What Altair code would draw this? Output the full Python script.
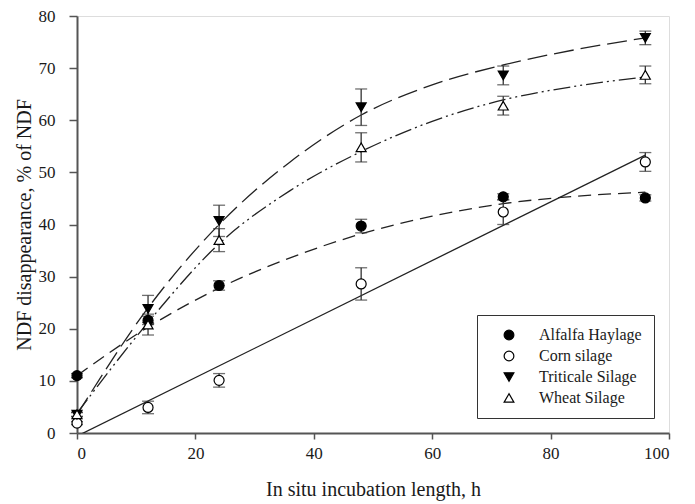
import altair as alt
import pandas as pd

# ---- data ----
series_names = ["Alfalfa Haylage", "Corn silage", "Triticale Silage", "Wheat Silage"]
times = [0, 12, 24, 48, 72, 96]
alfalfa_mean = [11.0, 21.6, 28.3, 39.7, 45.3, 45.1]
alfalfa_err = [0.4, 0.8, 0.9, 1.3, 0.6, 0.6]
corn_mean = [1.9, 4.9, 10.1, 28.6, 42.4, 52.0]
corn_err = [0.3, 1.2, 1.3, 3.1, 2.4, 1.8]
triticale_mean = [3.5, 23.8, 40.7, 62.5, 68.6, 75.8]
triticale_err = [0.4, 2.6, 3.0, 3.5, 1.8, 1.3]
wheat_mean = [3.6, 20.8, 37.0, 54.8, 62.8, 68.7]
wheat_err = [0.4, 2.0, 2.2, 2.8, 1.8, 1.7]

# fitted curves
curve_t = [0, 12, 24, 36, 48, 60, 72, 84, 96]
alfalfa_curve = [11.0, 20.3, 27.8, 33.6, 38.2, 41.6, 44.0, 45.4, 46.2]
triticale_curve = [3.5, 24.0, 40.0, 52.0, 61.0, 66.8, 70.6, 73.5, 75.8]
wheat_curve = [3.8, 21.2, 36.3, 46.5, 54.0, 59.8, 63.9, 66.5, 68.3]
corn_line_t = [0, 96]
corn_line = [-0.6, 53.3]

x_ticks = [0, 20, 40, 60, 80, 100]
y_ticks = [0, 10, 20, 30, 40, 50, 60, 70, 80]

# ---- tables ----
rows = []
for name, m, e in zip(series_names,
                      [alfalfa_mean, corn_mean, triticale_mean, wheat_mean],
                      [alfalfa_err, corn_err, triticale_err, wheat_err]):
    for t, mm, ee in zip(times, m, e):
        rows.append({"series": name, "t": t, "y": mm, "lo": mm - ee, "hi": mm + ee})
pts = pd.DataFrame(rows)

FONT = "Liberation Serif"
TXT = "#1a1a1a"

xscale = alt.Scale(domain=[0, 100], nice=False, zero=False)
yscale = alt.Scale(domain=[0, 80], nice=False)

xaxis = alt.Axis(values=x_ticks, title="In situ incubation length, h", grid=False,
                 tickSize=6, labelPadding=6, titlePadding=18,
                 labelFontSize=17, titleFontSize=20, labelFont=FONT, titleFont=FONT,
                 labelColor=TXT, titleColor=TXT, titleFontWeight="normal",
                 domainColor="#555", domainWidth=2, tickColor="#555", tickWidth=1.5)
yaxis = alt.Axis(values=y_ticks, title="NDF disappearance, % of NDF", grid=False,
                 tickSize=8, labelPadding=14, titlePadding=4,
                 labelFontSize=17, titleFontSize=20, labelFont=FONT, titleFont=FONT,
                 labelColor=TXT, titleColor=TXT, titleFontWeight="normal",
                 domainColor="#555", domainWidth=2, tickColor="#555", tickWidth=1.5)


def curve_layer(tt, vv, dash, with_axes=False):
    df = pd.DataFrame({"t": tt, "y": vv})
    kw = dict(color="#222", strokeWidth=1.3, clip=True, interpolate="monotone")
    if dash:
        kw["strokeDash"] = dash
    if with_axes:
        enc = dict(x=alt.X("t:Q", scale=xscale, axis=xaxis),
                   y=alt.Y("y:Q", scale=yscale, axis=yaxis))
    else:
        enc = dict(x=alt.X("t:Q", scale=xscale), y=alt.Y("y:Q", scale=yscale))
    return alt.Chart(df).mark_line(**kw).encode(**enc)


l_alf = curve_layer(curve_t, alfalfa_curve, [13, 7], with_axes=True)
l_corn = curve_layer(corn_line_t, corn_line, None)
l_tri = curve_layer(curve_t, triticale_curve, [20, 7])
l_wht = curve_layer(curve_t, wheat_curve, [17, 4, 2, 4, 2, 4])

rules = alt.Chart(pts).mark_rule(color="#333", strokeWidth=1.3).encode(
    x=alt.X("t:Q", scale=xscale),
    y=alt.Y("lo:Q", scale=yscale),
    y2="hi:Q",
)
cap_lo = alt.Chart(pts).mark_tick(color="#333", thickness=1.3, size=12,
                                  orient="horizontal").encode(
    x=alt.X("t:Q", scale=xscale), y=alt.Y("lo:Q", scale=yscale))
cap_hi = alt.Chart(pts).mark_tick(color="#333", thickness=1.3, size=12,
                                  orient="horizontal").encode(
    x=alt.X("t:Q", scale=xscale), y=alt.Y("hi:Q", scale=yscale))

legend = alt.Legend(title=None, orient="bottom-right", offset=15,
                    strokeColor="#333", fillColor="white", padding=12,
                    symbolOffset=12, labelOffset=22, rowPadding=5,
                    labelFont=FONT, labelFontSize=16, labelColor=TXT,
                    symbolStrokeWidth=1.2, symbolSize=95, symbolOpacity=1)

points = alt.Chart(pts).mark_point(filled=True, strokeWidth=1.2, size=100).encode(
    x=alt.X("t:Q", scale=xscale),
    y=alt.Y("y:Q", scale=yscale),
    shape=alt.Shape("series:N", scale=alt.Scale(
        domain=series_names,
        range=["circle", "circle", "triangle-down", "triangle-up"]), legend=legend),
    fill=alt.Fill("series:N", scale=alt.Scale(
        domain=series_names, range=["black", "white", "black", "white"]), legend=legend),
    stroke=alt.Stroke("series:N", scale=alt.Scale(
        domain=series_names, range=["black", "black", "black", "black"]), legend=legend),
    opacity=alt.value(1),
)

chart = alt.layer(l_alf, l_corn, l_tri, l_wht, rules, cap_lo, cap_hi, points).properties(
    width=592, height=417,
    padding={"left": 69, "top": 8, "right": 10, "bottom": 70},
    autosize=alt.AutoSizeParams(type="none"),
).configure_view(
    stroke="#555", strokeWidth=2
).configure_legend(
    labelFont=FONT, labelFontSize=16, labelColor=TXT
).configure(background="white", font=FONT)

chart.save("out.html", embed_options={"renderer": "svg", "actions": False})
